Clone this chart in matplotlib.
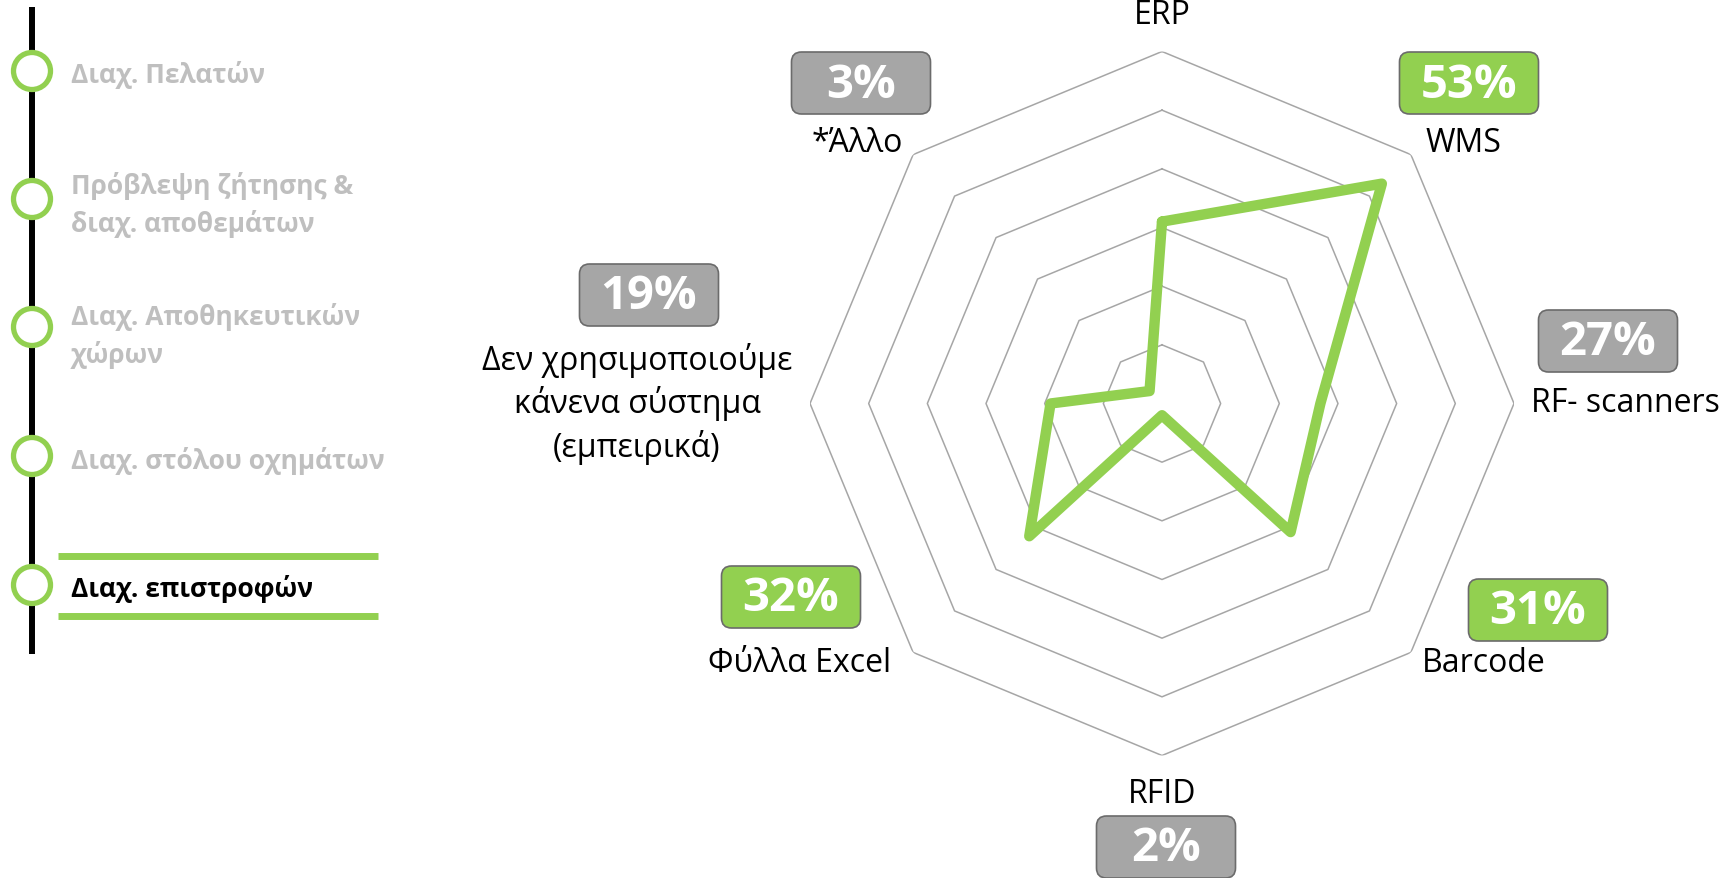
import matplotlib

matplotlib.use("Agg")
import matplotlib.pyplot as plt  # noqa: E402
import numpy as np  # noqa: E402
from matplotlib.patches import Circle, FancyBboxPatch  # noqa: E402

plt.rcParams["font.family"] = ["Open Sans", "DejaVu Sans"]

W, H = 1727, 879
GREEN = "#92D050"
BOX_GREY = "#A6A6A6"
GRID = "#A6A6A6"
STEP_GREY = "#BFBFBF"

# radar data, clockwise from the top
CATEGORIES = ["ERP", "WMS", "RF- scanners", "Barcode", "RFID", "Φύλλα Excel",
              "Δεν χρησιμοποιούμε\nκάνενα σύστημα\n(εμπειρικά)", "*Άλλο"]
VALUES = [31, 53, 27, 31, 2, 32, 19, 3]
HIGHLIGHT = [False, True, False, True, False, True, False, False]
SHOW_BOX = [False, True, True, True, True, True, True, True]
RINGS = [10, 20, 30, 40, 50, 60]

# left-hand timeline
STEPS = ["Διαχ. Πελατών", "Πρόβλεψη ζήτησης &\nδιαχ. αποθεμάτων",
         "Διαχ. Αποθηκευτικών\nχώρων", "Διαχ. στόλου οχημάτων", "Διαχ. επιστροφών"]
ACTIVE_STEP = 4

# layout (pixels, y down)
CENTER, RADIUS = (1162, 404.5), 352
LABEL_XY = [(1162, 15), (1463, 144), (1625, 404), (1484, 664), (1162, 795),
            (800, 664), (637, 404), (857, 144)]
BOX_XY = [None, (1469, 84), (1608, 342), (1538, 611), (1166, 848), (791, 598),
          (649, 296), (861, 84)]
BOX_W, BOX_H = 139, 62
STEP_Y = [72, 200, 328, 457, 586]
STEP_TEXT_Y = [75, 205, 336, 461, 589]


def radar(fig):
    cx, cy = CENTER
    rect = [(cx - RADIUS) / W, (H - cy - RADIUS) / H, 2 * RADIUS / W, 2 * RADIUS / H]
    ax = fig.add_axes(rect, projection="polar")
    ax.set_theta_zero_location("N")
    ax.set_theta_direction(-1)
    n = len(CATEGORIES)
    theta = np.arange(n + 1) * 2 * np.pi / n
    for r in RINGS:
        ax.plot(theta, [r] * (n + 1), color=GRID, lw=1.1, zorder=1)
    vals = VALUES + VALUES[:1]
    ax.plot(theta, vals, color=GREEN, lw=7.5, solid_joinstyle="round",
            solid_capstyle="round", zorder=3)
    ax.set_ylim(0, RINGS[-1])
    ax.axis("off")


def overlay(fig):
    ax = fig.add_axes([0, 0, 1, 1])
    ax.set_xlim(0, W)
    ax.set_ylim(H, 0)
    ax.axis("off")

    # timeline
    ax.plot([32, 32], [8, 655], color="black", lw=4.3, zorder=1, solid_capstyle="butt")
    for i, (y, ty, s) in enumerate(zip(STEP_Y, STEP_TEXT_Y, STEPS)):
        ax.add_patch(Circle((32, y), 18.5, fc="white", ec=GREEN, lw=3.8, zorder=2))
        active = i == ACTIVE_STEP
        ax.text(71, ty, s, fontsize=19, fontweight="bold", va="center", ha="left",
                color="black" if active else STEP_GREY, linespacing=1.45)
        if active:
            for yy in (y - 29, y + 31):
                ax.plot([58, 378], [yy, yy], color=GREEN, lw=5, solid_capstyle="butt")

    # radar labels and value boxes
    for lab, (lx, ly), box, v, hl in zip(CATEGORIES, LABEL_XY, BOX_XY, VALUES, HIGHLIGHT):
        ax.text(lx, ly, lab, fontsize=23, ha="center", va="center", color="black",
                linespacing=1.33)
        if box is None:
            continue
        bx, by = box
        ax.add_patch(FancyBboxPatch((bx - BOX_W / 2, by - BOX_H / 2), BOX_W, BOX_H,
                                    boxstyle="round,pad=0,rounding_size=10",
                                    fc=GREEN if hl else BOX_GREY, ec="#6B6B6B", lw=1.2))
        ax.text(bx, by + 1, f"{v}%", fontsize=34, fontweight="bold", color="white",
                ha="center", va="center")


def main():
    fig = plt.figure(figsize=(W / 100, H / 100), dpi=100)
    radar(fig)
    overlay(fig)
    fig.savefig("out.png", dpi=100)
    plt.close(fig)


if __name__ == "__main__":
    main()
